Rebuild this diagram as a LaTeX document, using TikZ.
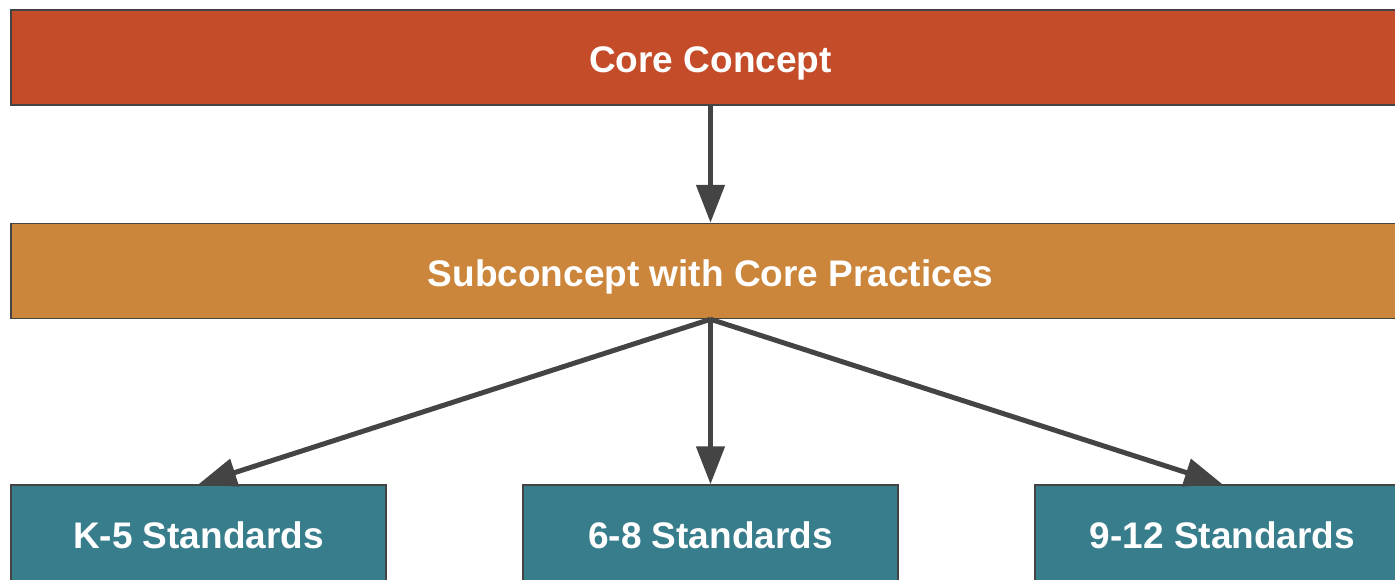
\documentclass[tikz,border=0pt]{standalone}
\usepackage{fontspec}
\setmainfont{Liberation Sans}
\usepackage{tikz}
\usetikzlibrary{arrows.meta, positioning}
\definecolor{corered}{HTML}{C44C28}
\definecolor{suborange}{HTML}{CC863B}
\definecolor{stdteal}{HTML}{377D8C}
\definecolor{edgegray}{HTML}{444444}
\tikzset{
>={Triangle[width=28pt,length=38pt]},
box/.style={%
    rectangle,
    draw=edgegray,
    line width=1.5pt,
    minimum height=95pt,
    text height=30pt,
    text depth=0pt,
    text=white,
    % Font
    font=\fontsize{37}{42}\selectfont\bfseries
},
wide/.style={box, minimum width=1399pt},
standard/.style={box, fill=stdteal, minimum width=375pt, minimum height=96pt},
link/.style={->, draw=edgegray, line width=5pt},
}

\begin{document}
\begin{tikzpicture}[x=1pt, y=-1pt]
	\useasboundingbox (0,0) rectangle (1395,579);
	\clip (0,0) rectangle (1395,579);

	\node[wide, fill=corered] at (710.5,57.5) (core) {Core Concept};
	\node[wide, fill=suborange] at (710.5,271) (sub) {Subconcept with Core Practices};

	\node[standard] at (198.5,533) (k5) {K-5 Standards};
	\node[standard] at (710.5,533) (g68) {6-8 Standards};
	\node[standard] at (1222.5,533) (g912) {9-12 Standards};

	\draw[link] (core.south) -- (sub.north);
	\draw[link] (sub.south) -- (k5.north);
	\draw[link] (sub.south) -- (g68.north);
	\draw[link] (sub.south) -- (g912.north);
\end{tikzpicture}
\end{document}
